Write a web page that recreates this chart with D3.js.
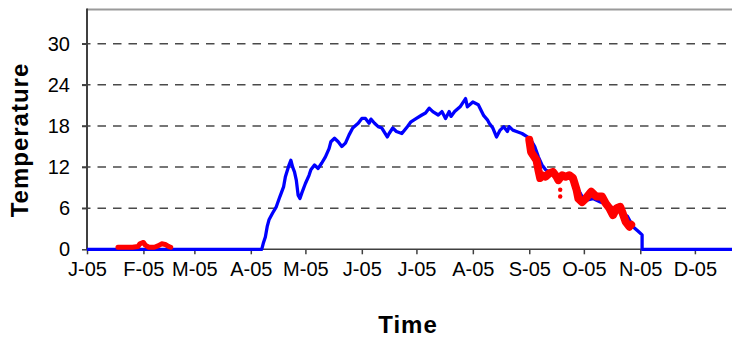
<!DOCTYPE html>
<html><head><meta charset="utf-8">
<script src="https://cdnjs.cloudflare.com/ajax/libs/d3/7.8.5/d3.min.js"></script>
<style>
html,body{margin:0;padding:0;background:#fff;}
svg{display:block;}
</style></head>
<body>
<svg id="chart" width="732" height="339"></svg>
<script>
// ---- data ----
const monthLabels = ["J-05","F-05","M-05","A-05","M-05","J-05","J-05","A-05","S-05","O-05","N-05","D-05"];
const yTickValues = [0, 6, 12, 18, 24, 30];

const blueDates = ["2005-01-01","2005-04-07","2005-04-08","2005-04-09","2005-04-10","2005-04-11","2005-04-13","2005-04-15","2005-04-17","2005-04-19","2005-04-20","2005-04-22","2005-04-23","2005-04-24","2005-04-25","2005-04-26","2005-04-27","2005-04-28","2005-04-29","2005-05-01","2005-05-03","2005-05-04","2005-05-06","2005-05-08","2005-05-10","2005-05-12","2005-05-14","2005-05-15","2005-05-17","2005-05-19","2005-05-21","2005-05-23","2005-05-25","2005-05-27","2005-05-30","2005-06-01","2005-06-03","2005-06-05","2005-06-06","2005-06-08","2005-06-10","2005-06-12","2005-06-15","2005-06-16","2005-06-18","2005-06-20","2005-06-23","2005-06-26","2005-06-28","2005-07-01","2005-07-04","2005-07-06","2005-07-08","2005-07-10","2005-07-13","2005-07-15","2005-07-17","2005-07-19","2005-07-20","2005-07-22","2005-07-25","2005-07-28","2005-07-29","2005-08-01","2005-08-04","2005-08-07","2005-08-09","2005-08-10","2005-08-12","2005-08-14","2005-08-16","2005-08-18","2005-08-20","2005-08-21","2005-08-23","2005-08-25","2005-08-28","2005-08-31","2005-09-02","2005-09-04","2005-09-06","2005-09-08","2005-09-10","2005-09-12","2005-09-16","2005-09-20","2005-09-23","2005-09-26","2005-09-28","2005-09-30","2005-10-03","2005-10-06","2005-10-10","2005-10-14","2005-10-17","2005-10-21","2005-10-25","2005-10-28","2005-10-31","2005-11-02","2005-11-02","2006-01-01"];
const blueValues = [0,0,1.0,1.8,3.3,4.3,5.3,6.2,7.7,9.1,10.6,12.3,13.0,12.0,11.3,10.1,7.9,7.4,8.2,9.6,10.8,11.6,12.3,11.8,12.6,13.5,14.7,15.7,16.2,15.7,15.0,15.5,16.7,17.7,18.4,19.1,19.1,18.4,19.0,18.4,17.9,17.7,16.4,16.9,17.7,17.2,16.9,17.9,18.6,19.1,19.6,19.9,20.6,20.1,19.6,20.1,19.1,20.1,19.4,20.1,20.8,22.0,20.8,21.5,21.1,19.5,18.9,18.4,17.7,16.4,17.4,17.9,17.2,17.9,17.4,17.2,16.9,16.4,15.9,15.0,13.5,12.3,11.6,11.3,10.8,10.6,10.4,9.9,8.7,7.7,7.2,7.4,6.9,6.5,6.0,5.5,4.8,3.3,2.6,2.1,0,0];

const redWinterDates = ["2005-01-18","2005-01-22","2005-01-26","2005-01-29","2005-01-30","2005-02-01","2005-02-02","2005-02-04","2005-02-07","2005-02-09","2005-02-11","2005-02-13","2005-02-15","2005-02-16"];
const redWinterValues = [0.3,0.3,0.3,0.4,0.8,1.0,0.6,0.3,0.3,0.5,0.8,0.7,0.4,0.3];

const redAutumnDates = ["2005-09-01","2005-09-02","2005-09-03","2005-09-05","2005-09-06","2005-09-07","2005-09-08","2005-09-10","2005-09-12","2005-09-14","2005-09-16","2005-09-17","2005-09-19","2005-09-21","2005-09-23","2005-09-25","2005-09-27","2005-09-28","2005-09-30","2005-10-02","2005-10-05","2005-10-07","2005-10-08","2005-10-11","2005-10-13","2005-10-15","2005-10-17","2005-10-19","2005-10-21","2005-10-22","2005-10-24","2005-10-26","2005-10-27"];
const redAutumnValues = [16.0,14.2,13.8,13.0,11.6,10.4,10.8,10.6,11.1,11.3,10.6,10.1,10.8,10.6,10.8,10.4,8.7,7.4,6.9,7.4,8.4,7.9,7.7,7.7,6.7,6.0,5.0,6.0,6.2,5.5,4.0,3.3,3.6];

const redOutlierDates = ["2005-09-18","2005-09-18"];
const redOutlierValues = [8.7, 7.7];

// ---- chart ----
const parse = d3.utcParse("%Y-%m-%d");
const svg = d3.select("#chart");
const plotLeft = 87, plotBottom = 249.3, plotTop = 9.5;
const pxPerDay = 1.82;

const x = d3.scaleUtc()
  .domain([parse("2005-01-01"), parse("2006-01-01")])
  .range([plotLeft, plotLeft + 365 * pxPerDay]);
const y = d3.scaleLinear().domain([0, 35]).range([plotBottom, plotTop]);

const zip = (ds, vs) => ds.map((d, i) => ({date: parse(d), value: vs[i]}));
const blue = zip(blueDates, blueValues);
const redW = zip(redWinterDates, redWinterValues);
const redA = zip(redAutumnDates, redAutumnValues);
const redO = zip(redOutlierDates, redOutlierValues);

// gridlines
svg.append("g").selectAll("line").data(yTickValues.filter(v => v > 0)).join("line")
  .attr("x1", plotLeft - 5).attr("x2", 732)
  .attr("y1", d => y(d)).attr("y2", d => y(d))
  .attr("stroke", "#4a4a4a").attr("stroke-width", 1.5)
  .attr("stroke-dasharray", "8.5,7");

// top border
svg.append("line").attr("x1", plotLeft).attr("x2", 732).attr("y1", plotTop).attr("y2", plotTop)
  .attr("stroke", "#9a9a9a").attr("stroke-width", 2);

// y axis
const yAxis = d3.axisLeft(y).tickValues(yTickValues).tickSize(5).tickPadding(12).tickFormat(d3.format("d"));
const gy = svg.append("g").attr("transform", `translate(${plotLeft},0)`).call(yAxis);
gy.select(".domain").remove();
gy.append("line").attr("x1", 0).attr("x2", 0).attr("y1", plotTop - 1).attr("y2", plotBottom)
  .attr("stroke", "#404040").attr("stroke-width", 2);
gy.selectAll(".tick line").attr("stroke", "#404040").attr("stroke-width", 1.5);
gy.selectAll(".tick text").attr("font-family", "Liberation Sans, Arial, sans-serif")
  .attr("font-size", 20).attr("fill", "#000");

// x axis
const monthTicks = d3.utcMonth.range(parse("2005-01-01"), parse("2006-01-01"));
const xAxis = d3.axisBottom(x).tickValues(monthTicks).tickSize(5).tickPadding(8)
  .tickFormat((d, i) => monthLabels[i]);
const gx = svg.append("g").attr("transform", `translate(0,${plotBottom})`).call(xAxis);
gx.select(".domain").remove();
gx.append("line").attr("x1", plotLeft).attr("x2", 732).attr("y1", 0).attr("y2", 0)
  .attr("stroke", "#404040").attr("stroke-width", 1.5);
gx.selectAll(".tick line").attr("stroke", "#404040").attr("stroke-width", 1.5);
gx.selectAll(".tick text").attr("font-family", "Liberation Sans, Arial, sans-serif")
  .attr("font-size", 20).attr("fill", "#000");

// blue series
const line = d3.line().x(d => x(d.date)).y(d => y(d.value));
svg.append("path").datum(blue).attr("d", line)
  .attr("fill", "none").attr("stroke", "#0000ff").attr("stroke-width", 3.3)
  .attr("stroke-linejoin", "round");

// red series (dense points drawn as band)
[redW, redA].forEach((data, i) => {
  svg.append("path").datum(data).attr("d", line)
    .attr("fill", "none").attr("stroke", "#ff0000")
    .attr("stroke-width", i === 0 ? 5 : 8)
    .attr("stroke-linejoin", "round").attr("stroke-linecap", "round");
});
svg.append("g").selectAll("circle").data(redO).join("circle")
  .attr("cx", d => x(d.date)).attr("cy", d => y(d.value)).attr("r", 2.2)
  .attr("fill", "#ff0000");

// axis titles
svg.append("text").attr("transform", "translate(28,140) rotate(-90)")
  .attr("text-anchor", "middle").attr("font-family", "Liberation Sans, Arial, sans-serif")
  .attr("font-weight", "bold").attr("font-size", 24).attr("letter-spacing", 1)
  .text("Temperature");
svg.append("text").attr("x", 408).attr("y", 333)
  .attr("text-anchor", "middle").attr("font-family", "Liberation Sans, Arial, sans-serif")
  .attr("font-weight", "bold").attr("font-size", 24).attr("letter-spacing", 1)
  .text("Time");
</script>
</body></html>
